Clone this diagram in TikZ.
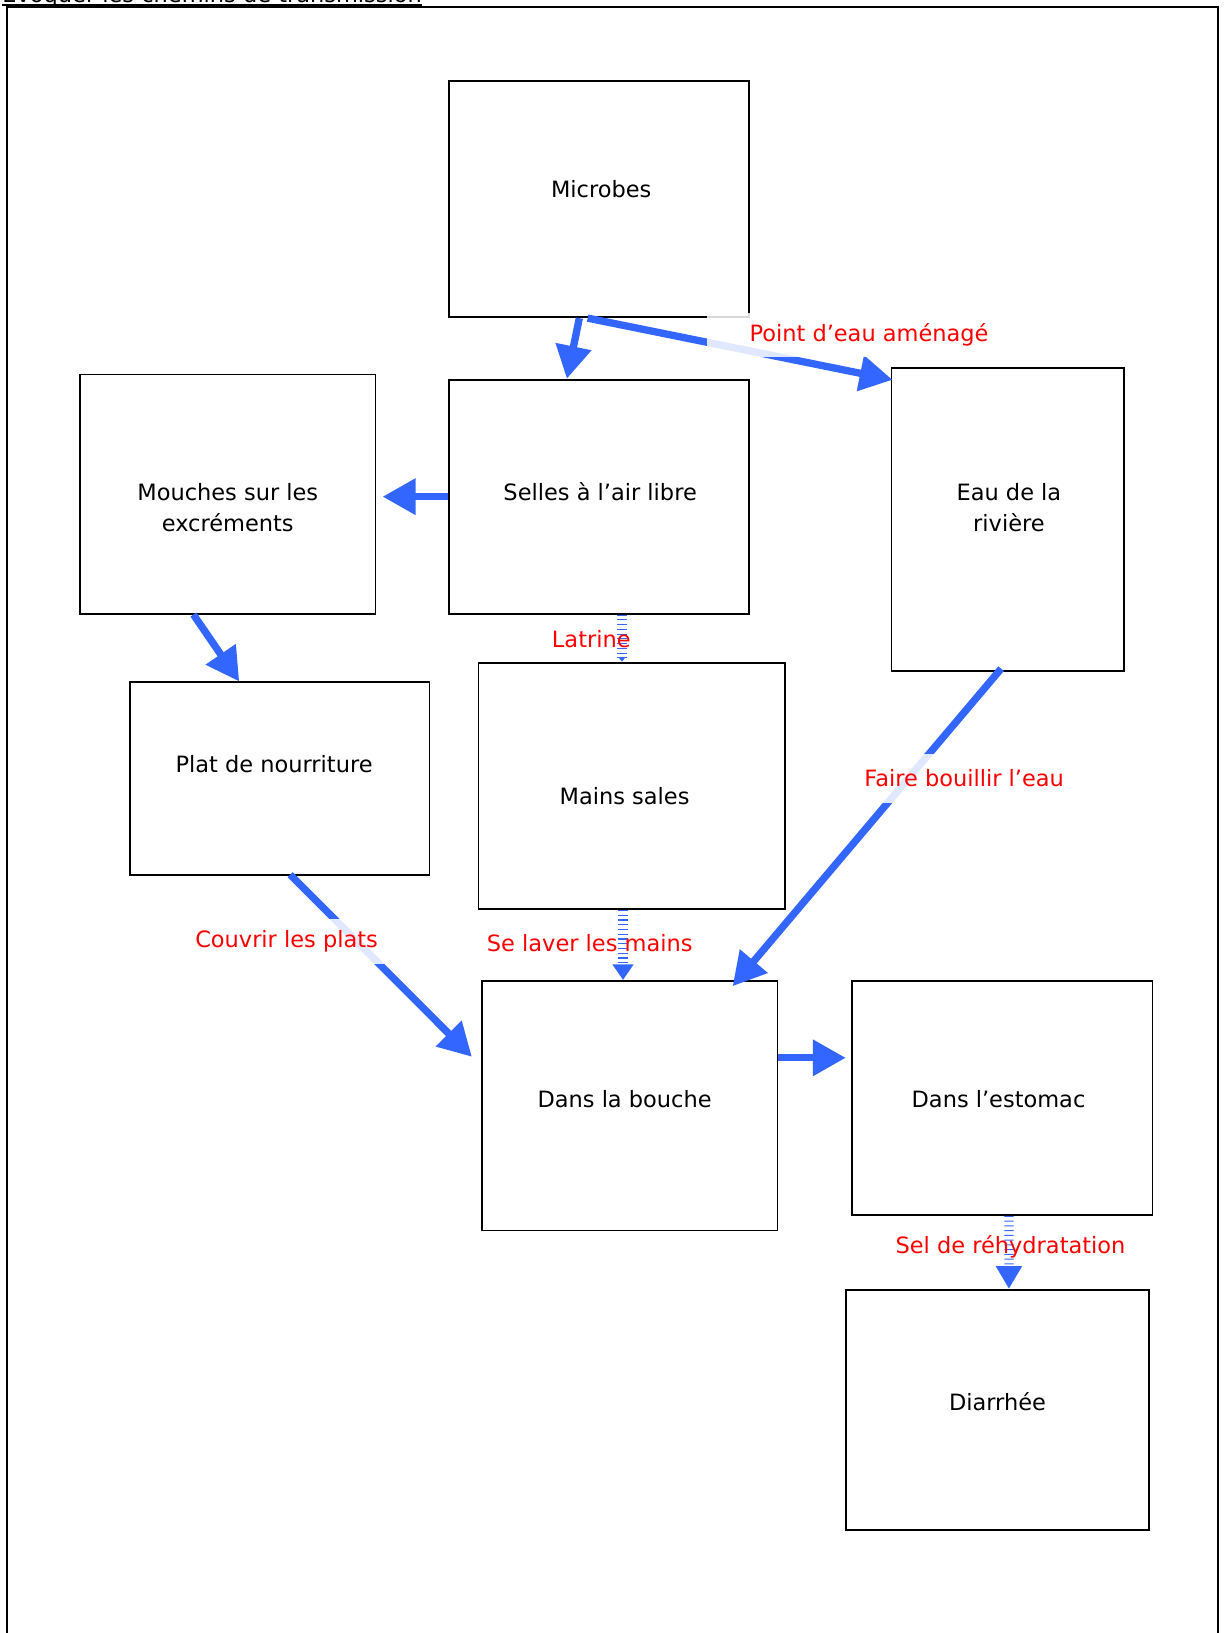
\documentclass[tikz,border=0pt]{standalone}
\usepackage{fontspec}
\setmainfont{DejaVu Sans}
\usepackage{tikz}
\usetikzlibrary{arrows.meta, calc}
\definecolor{fleche}{RGB}{51,102,255}

\begin{document}
\begin{tikzpicture}
    [
        x=0.02cm, y=-0.02cm,
        every node/.style = {font=\fontsize{12.3}{17}\selectfont},
        boite/.style = {draw, shape=rectangle, line width=1pt},
        texte/.style = {align=center, inner sep=0pt},
        etiquette/.style = {text=red, inner sep=0pt},
        cache/.style = {etiquette, fill=white, fill opacity=0.85, text opacity=1},
        pleine/.style = {draw=fleche, line width=4pt, -{Triangle[length=18pt, width=19pt]}},
        tiret/.style = {draw=fleche, line width=5pt, dash pattern=on 0.6pt off 2pt},
    ]
    \useasboundingbox (0,0) rectangle (1176,1570);

    \node[anchor=base west, inner sep=0pt] (titre) at (2,2.5) {Evoquer les chemins de transmission};
    \draw[line width=1.2pt] ($(titre.base west)+(0,2)$) -- ($(titre.base east)+(0,2)$);
    \draw[line width=1.2pt] (7,1600) |- (1171,7) -- (1171,1600);

    \node[boite, minimum width=5.76cm, minimum height=4.54cm, label={[texte, name=microbes-t, shift={(2,-9.5)}]center:Microbes}] (microbes) at (576,191.5) {};
    \node[boite, minimum width=5.76cm, minimum height=4.5cm, label={[texte, name=selles-t, shift={(1,-4.5)}]center:Selles à l’air libre}] (selles) at (576,477.5) {};
    \node[boite, minimum width=5.68cm, minimum height=4.6cm, label={[texte, name=mouches-t, shift={(0,13)}]center:Mouches sur les\\excréments}] (mouches) at (219,475) {};
    \node[boite, minimum width=4.48cm, minimum height=5.82cm, label={[texte, name=eau-t, shift={(1,-11.5)}]center:Eau de la\\rivière}] (eau) at (969,499.5) {};
    \node[boite, minimum width=5.76cm, minimum height=3.7cm, label={[texte, name=plat-t, shift={(-5.5,-13.5)}]center:Plat de nourriture}] (plat) at (269,748.5) {};
    \node[boite, minimum width=5.9cm, minimum height=4.74cm, label={[texte, name=mains-t, shift={(-7,9.5)}]center:Mains sales}] (mains) at (607.5,755.5) {};
    \node[boite, minimum width=5.68cm, minimum height=4.8cm, label={[texte, name=bouche-t, shift={(-5,-6)}]center:Dans la bouche}] (bouche) at (605.5,1063) {};
    \node[boite, minimum width=5.78cm, minimum height=4.5cm, label={[texte, name=estomac-t, shift={(-3.5,1.5)}]center:Dans l’estomac}] (estomac) at (963.5,1055.5) {};
    \node[boite, minimum width=5.84cm, minimum height=4.62cm, label={[texte, name=diarrhee-t, shift={(0,-7.5)}]center:Diarrhée}] (diarrhee) at (959,1355.5) {};

    \draw[pleine] ($(microbes.south)+(-19,0)$) -- ($(selles.north)+(-31,0)$);
    \draw[pleine] ($(microbes.south)+(-11,0)$) -- ($(eau.north west)+(2,12)$);
    \draw[pleine] (selles.west) -- ($(selles.west -| mouches.east)+(6,0)$);
    \draw[pleine] ($(mouches.south)+(-33,0)$) -- ($(plat.north)+(-39,0)$);
    \draw[pleine] ($(eau.south)+(-6.5,-3)$) -- ($(bouche.north east)+(-44,6)$);
    \draw[pleine] ($(plat.south)+(10,-1)$) -- ($(bouche.west)+(-9,-47)$);
    \draw[pleine] ($(bouche.east)+(0,-46)$) -- ($(bouche.east -| estomac.west)+(-5,-46)$);
    \draw[tiret, -{Triangle[length=2pt, width=3pt]}] ($(selles.south)+(22,0)$) -- ($(mains.north)+(-9.5,0)$);
    \draw[tiret, -{Triangle[length=8.5pt, width=11pt]}] ($(mains.south)+(-8.5,0)$) -- ($(bouche.north)+(-6.5,0)$);
    \draw[tiret, -{Triangle[length=12.5pt, width=13.6pt]}] ($(estomac.south)+(6.5,0)$) -- ($(diarrhee.north)+(11,0)$);

    \node[cache, minimum height=0.84cm, inner xsep=0.82cm] (point) at (835.5,322) {Point d’eau aménagé};
    \node[cache, minimum height=0.94cm, inner xsep=0.2cm] (bouillir) at (927,748.5) {Faire bouillir l’eau};
    \node[cache, minimum height=0.86cm, inner xsep=0.2cm] (couvrir) at (275.5,905) {Couvrir les plats};
    \node[etiquette] (latrine) at (568.5,614.5) {Latrine};
    \node[etiquette] (laver) at (567,907) {Se laver les mains};
    \node[etiquette] (sel) at (971.5,1199) {Sel de réhydratation};
\end{tikzpicture}
\end{document}
